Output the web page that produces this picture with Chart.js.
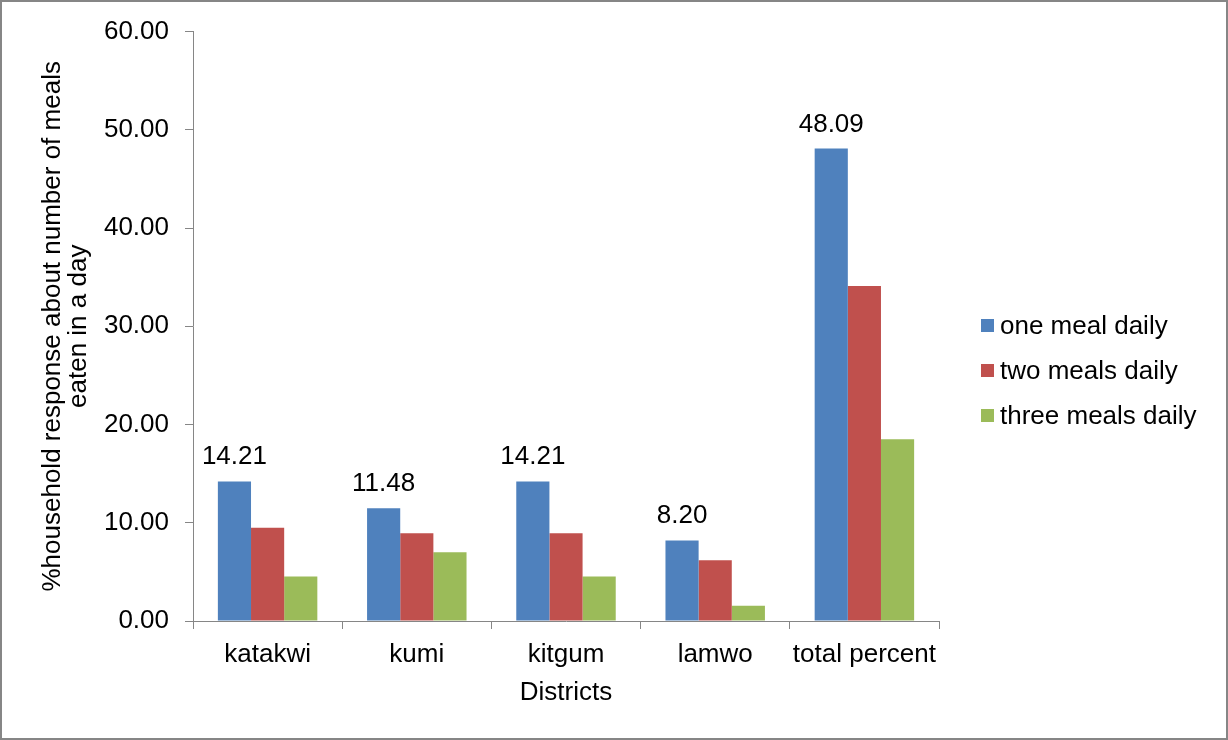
<!DOCTYPE html>
<html>
<head>
<meta charset="utf-8">
<script src="https://cdn.jsdelivr.net/npm/chart.js@4"></script>
<style>
  html, body { margin: 0; padding: 0; background: #fff; }
  #wrap { width: 1228px; height: 740px; position: relative; }
</style>
</head>
<body>
<div id="wrap"><canvas id="c"></canvas></div>
<script>
const categories = ['katakwi', 'kumi', 'kitgum', 'lamwo', 'total percent'];
const seriesNames = ['one meal daily', 'two meals daily', 'three meals daily'];
const oneMeal = [14.21, 11.48, 14.21, 8.20, 48.09];
const twoMeals = [9.48, 8.93, 8.93, 6.19, 34.1];
const threeMeals = [4.54, 7.00, 4.54, 1.56, 18.5];
const yTicks = [0, 10, 20, 30, 40, 50, 60];
const colors = ['#4F81BD', '#C0504D', '#9BBB59'];

const FONT = "'Liberation Sans', Arial, sans-serif";
const AXIS = '#868686';

const labelPlugin = {
  id: 'blueLabels',
  afterDatasetsDraw(chart) {
    const ctx = chart.ctx;
    const meta = chart.getDatasetMeta(0);
    const ds = chart.data.datasets[0];
    ctx.save();
    ctx.font = '26px ' + FONT;
    ctx.fillStyle = '#000';
    ctx.textAlign = 'center';
    ctx.textBaseline = 'alphabetic';
    meta.data.forEach((bar, i) => {
      ctx.fillText(ds.data[i].toFixed(2), bar.x, bar.y - 17);
    });
    ctx.restore();
  }
};

const legendPlugin = {
  id: 'sideLegend',
  afterDraw(chart) {
    const ctx = chart.ctx;
    const x0 = chart.chartArea.right + 42;
    const yc = chart.height / 2;
    ctx.save();
    ctx.font = '26px ' + FONT;
    ctx.textAlign = 'left';
    ctx.textBaseline = 'middle';
    chart.data.datasets.forEach((ds, i) => {
      const y = yc + (i - 1) * 45;
      ctx.fillStyle = ds.backgroundColor;
      ctx.fillRect(x0, y - 6, 13, 13);
      ctx.fillStyle = '#000';
      ctx.fillText(ds.label, x0 + 19, y + 2);
    });
    ctx.restore();
  }
};

const framePlugin = {
  id: 'frame',
  afterDraw(chart) {
    const ctx = chart.ctx;
    ctx.save();
    ctx.strokeStyle = AXIS;
    ctx.lineWidth = 2;
    ctx.strokeRect(1, 1, chart.width - 2, chart.height - 2);
    ctx.restore();
  }
};

new Chart(document.getElementById('c'), {
  type: 'bar',
  data: {
    labels: categories,
    datasets: [oneMeal, twoMeals, threeMeals].map((d, i) => ({
      label: seriesNames[i],
      data: d,
      backgroundColor: colors[i],
      borderWidth: 0,
      categoryPercentage: 3 / 4.5,
      barPercentage: 1.0
    }))
  },
  options: {
    responsive: true,
    maintainAspectRatio: false,
    animation: false,
    devicePixelRatio: 1,
    layout: { padding: { left: 0, top: 30, right: 289, bottom: 0 } },
    plugins: {
      legend: { display: false },
      tooltip: { enabled: false }
    },
    scales: {
      x: {
        afterFit(scale) { scale.height = 119; },
        grid: {
          display: true,
          offset: true,
          drawOnChartArea: false,
          drawTicks: true,
          tickLength: 8,
          color: AXIS
        },
        border: { display: true, color: AXIS, width: 1 },
        ticks: {
          color: '#000',
          font: { family: FONT, size: 26 },
          padding: 10,
          maxRotation: 0
        },
        title: {
          display: true,
          text: 'Districts',
          color: '#000',
          font: { family: FONT, size: 26, lineHeight: 1.0 },
          padding: { top: 0, bottom: 34 }
        }
      },
      y: {
        min: 0,
        max: 60,
        afterFit(scale) { scale.width = 193; },
        afterBuildTicks(scale) { scale.ticks = yTicks.map(v => ({ value: v })); },
        grid: {
          display: true,
          drawOnChartArea: false,
          drawTicks: true,
          tickLength: 8,
          color: AXIS
        },
        border: { display: true, color: AXIS, width: 1 },
        ticks: {
          color: '#000',
          font: { family: FONT, size: 26 },
          padding: 16,
          callback: (v) => Number(v).toFixed(2)
        },
        title: {
          display: true,
          text: ['%household response about number of meals', 'eaten in a day'],
          color: '#000',
          font: { family: FONT, size: 26, lineHeight: 1.0 },
          padding: { top: 40, bottom: 0 }
        }
      }
    }
  },
  plugins: [labelPlugin, legendPlugin, framePlugin]
});
</script>
</body>
</html>
